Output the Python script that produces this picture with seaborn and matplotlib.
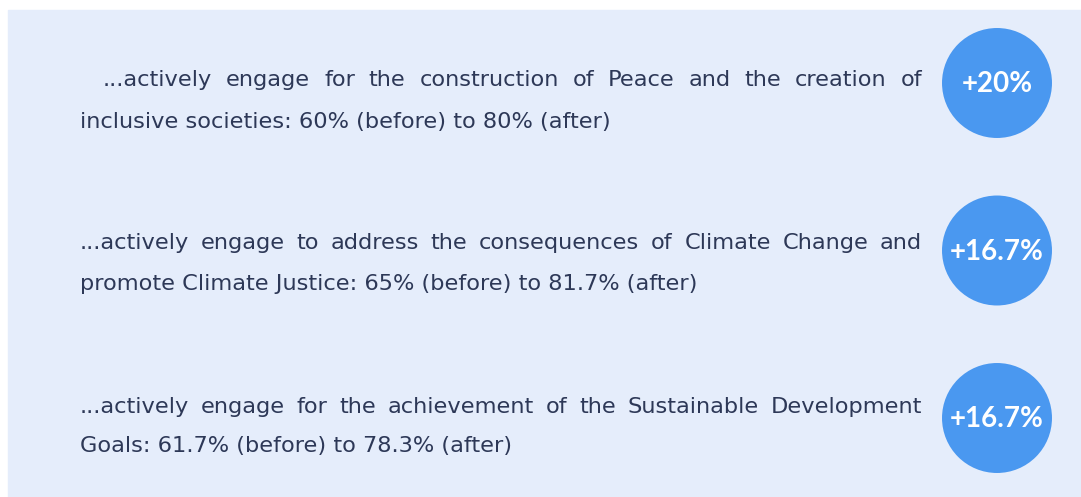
import matplotlib
matplotlib.use("Agg")
import matplotlib.pyplot as plt
from matplotlib.patches import Rectangle
import seaborn as sns
import pandas as pd

# --- data ---
first_lines = [
    "...actively engage for the construction of Peace and the creation of",
    "...actively engage to address the consequences of Climate Change and",
    "...actively engage for the achievement of the Sustainable Development",
]
second_starts = ["inclusive societies", "promote Climate Justice", "Goals"]
before = [60, 65, 61.7]
after = [80, 81.7, 78.3]
gain_labels = ["+20%", "+16.7%", "+16.7%"]

sns.set_theme(style="white")
plt.rcParams["font.family"] = ["DejaVu Sans"]

W, H = 1081, 497
fig = plt.figure(figsize=(W / 100, H / 100), dpi=100)
ax = fig.add_axes([0, 0, 1, 1])
fig.patch.set_facecolor("white")

# card background
ax.add_patch(Rectangle((8, 10), W, H, color="#e5edfb", zorder=0))

# badges
badges = pd.DataFrame({"row": range(len(gain_labels)), "gain": gain_labels})
badges["x"] = 997
badges["y"] = 83 + badges["row"] * 167.5
sns.scatterplot(data=badges, x="x", y="y", s=6270, color="#4a98f0",
                edgecolor="none", ax=ax, legend=False, zorder=2)
for _, r in badges.iterrows():
    ax.text(r["x"], r["y"] + 1, r["gain"], color="white", fontsize=20,
            fontweight="bold", family="Lato", ha="center", va="center", zorder=3)

ax.set_xlim(0, W)
ax.set_ylim(H, 0)
ax.axis("off")

text_color = "#2d3857"
fs = 16.2
renderer = fig.canvas.get_renderer()


def justify(line, y, x0, x1):
    words = line.split(" ")
    arts = [ax.text(0, y, w, color=text_color, fontsize=fs, va="center", ha="left")
            for w in words]
    widths = [a.get_window_extent(renderer).width for a in arts]
    gap = (x1 - x0 - sum(widths)) / (len(words) - 1)
    x = x0
    for a, w in zip(arts, widths):
        a.set_x(x)
        x += w + gap


line1_y = [80, 243, 407]
line2_y = [122, 284, 446]
left = [103, 80, 80]
for i in range(len(first_lines)):
    justify(first_lines[i], line1_y[i], left[i], 922)
    tail = f"{second_starts[i]}: {before[i]:g}% (before) to {after[i]:g}% (after)"
    ax.text(80, line2_y[i], tail, color=text_color, fontsize=fs, va="center", ha="left")

fig.savefig("out.png", dpi=100)
